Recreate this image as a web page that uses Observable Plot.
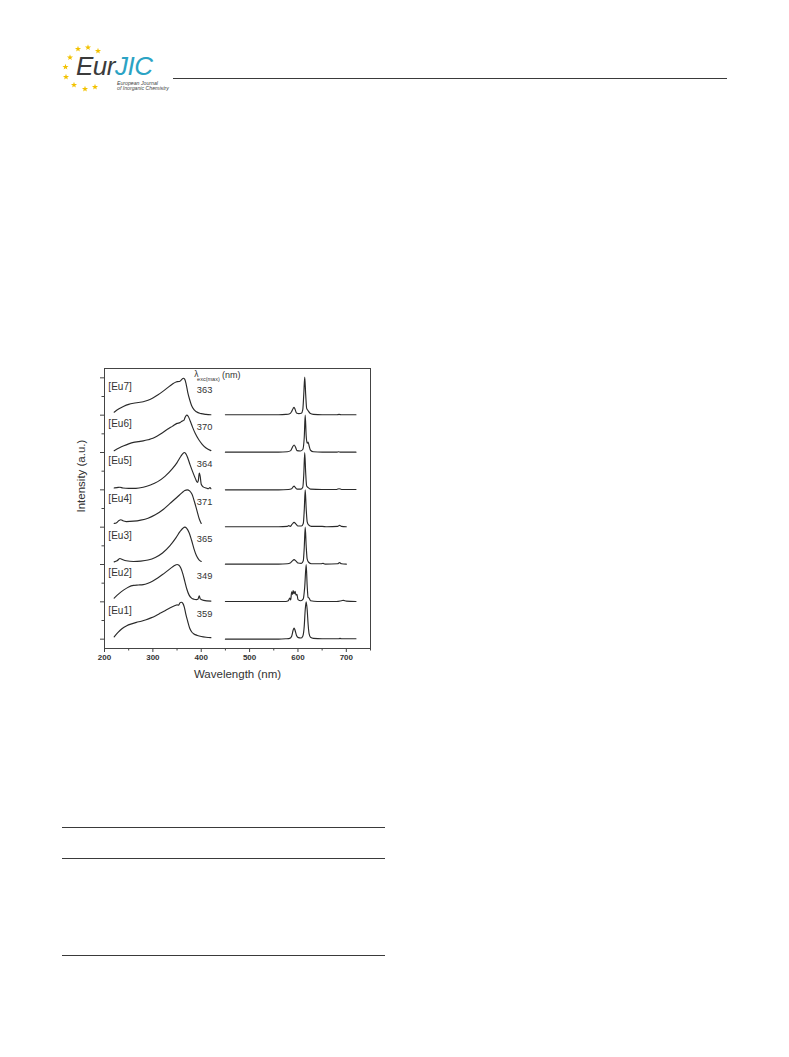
<!DOCTYPE html>
<html>
<head>
<meta charset="utf-8">
<script src="https://cdn.jsdelivr.net/npm/d3@7"></script>
<script src="https://cdn.jsdelivr.net/npm/@observablehq/plot@0.6"></script>
<style>
  html, body { margin: 0; padding: 0; background: #fff; }
  body { width: 789px; height: 1057px; position: relative; overflow: hidden; font-family: "Liberation Sans", Arial, sans-serif; }
  .abs { position: absolute; }
  .rule { position: absolute; height: 1.3px; background: #3a3a3a; }
</style>
</head>
<body>
<!-- journal header -->
<svg id="stars" class="abs" style="left:0; top:0;" width="120" height="100"></svg>
<div class="abs" style="left:76px; top:57px; font-size:26px; font-style:italic; color:#3b3b3b; letter-spacing:-0.5px; line-height:18px; height:18px;">Eur<span style="color:#2ba3c4;">JIC</span></div>
<div class="abs" style="left:117px; top:81px; font-size:5.2px; font-style:italic; color:#444; line-height:5.2px;">European Journal<br>of Inorganic Chemistry</div>
<div class="rule" style="left:173px; top:78px; width:554px;"></div>
<!-- table rules below the figure -->
<div class="rule" style="left:62px; top:827px; width:323px;"></div>
<div class="rule" style="left:62px; top:858px; width:323px;"></div>
<div class="rule" style="left:62px; top:955px; width:323px;"></div>
<div id="chart" class="abs" style="left:60px; top:360px;"></div>
<script>
// ---- data ----
const samples = ["[Eu1]", "[Eu2]", "[Eu3]", "[Eu4]", "[Eu5]", "[Eu6]", "[Eu7]"];
const lambdaMax = [359, 349, 365, 371, 364, 370, 363];

const excEu1 = [[220,0.06],[228,0.18],[236,0.28],[246,0.36],[256,0.41],[266,0.45],[276,0.48],[286,0.52],[296,0.57],[306,0.63],[316,0.70],[326,0.77],[336,0.84],[346,0.90],[350,0.92],[353,0.91],[356,0.97],[359,0.99],[362,0.96],[365,0.86],[368,0.68],[372,0.48],[376,0.30],[380,0.20],[385,0.14],[392,0.10],[400,0.07],[410,0.05],[420,0.04]];
const excEu2 = [[220,0.10],[230,0.22],[240,0.32],[250,0.40],[260,0.44],[270,0.45],[280,0.46],[290,0.50],[300,0.56],[310,0.64],[320,0.73],[330,0.83],[340,0.93],[346,0.98],[350,1.00],[354,0.98],[358,0.90],[362,0.75],[366,0.55],[370,0.35],[375,0.18],[380,0.10],[385,0.07],[390,0.06],[393,0.07],[396,0.16],[398,0.08],[405,0.04],[420,0.02]];
const excEu3 = [[220,0.07],[226,0.10],[232,0.16],[236,0.14],[245,0.10],[260,0.08],[275,0.09],[290,0.12],[305,0.19],[320,0.31],[335,0.50],[348,0.72],[356,0.88],[362,0.97],[366,1.00],[370,0.97],[375,0.85],[380,0.65],[385,0.42],[390,0.24],[395,0.13],[400,0.08]];
const excEu4 = [[220,0.10],[225,0.12],[230,0.18],[234,0.20],[238,0.17],[245,0.15],[260,0.16],[275,0.19],[290,0.24],[305,0.33],[320,0.46],[335,0.63],[350,0.80],[360,0.92],[366,0.98],[371,1.00],[376,0.97],[381,0.88],[386,0.68],[391,0.45],[396,0.22],[400,0.10]];
const excEu5 = [[220,0.05],[226,0.06],[232,0.07],[238,0.05],[250,0.04],[265,0.04],[280,0.07],[295,0.13],[310,0.22],[325,0.36],[340,0.56],[350,0.73],[358,0.90],[362,0.97],[365,1.00],[368,0.97],[372,0.86],[377,0.67],[383,0.46],[388,0.30],[392,0.20],[394,0.25],[396,0.45],[398,0.35],[400,0.15],[404,0.08],[410,0.05],[415,0.03],[418,0.06],[420,0.03]];
const excEu6 = [[220,0.05],[230,0.12],[240,0.18],[250,0.23],[260,0.27],[270,0.29],[280,0.31],[290,0.34],[300,0.38],[310,0.45],[320,0.53],[330,0.62],[340,0.70],[350,0.78],[356,0.80],[360,0.84],[364,0.86],[367,0.95],[370,1.00],[373,0.97],[377,0.85],[382,0.68],[388,0.50],[395,0.34],[402,0.22],[410,0.12],[420,0.05]];
const excEu7 = [[220,0.08],[230,0.17],[240,0.24],[250,0.29],[260,0.32],[270,0.34],[280,0.36],[290,0.40],[300,0.46],[310,0.54],[320,0.63],[330,0.73],[340,0.83],[348,0.89],[352,0.90],[356,0.91],[360,0.96],[363,0.99],[366,0.96],[369,0.82],[372,0.62],[376,0.42],[380,0.26],[385,0.15],[390,0.09],[400,0.04],[410,0.02],[420,0.01]];

const emEu1 = [[450,0.00],[560,0.00],[575,0.01],[583,0.02],[587,0.08],[590,0.24],[592,0.30],[594,0.24],[597,0.10],[601,0.04],[606,0.03],[610,0.08],[613,0.35],[615,0.78],[617,1.00],[619,0.80],[621,0.40],[623,0.15],[626,0.05],[632,0.02],[650,0.01],[684,0.01],[687,0.02],[690,0.01],[720,0.01]];
const emEu2 = [[450,0.01],[560,0.01],[575,0.01],[580,0.03],[583,0.10],[585,0.05],[587,0.27],[589,0.20],[590,0.30],[592,0.22],[594,0.28],[596,0.18],[598,0.20],[600,0.06],[606,0.03],[611,0.08],[614,0.40],[617,1.00],[619,0.45],[621,0.12],[623,0.10],[626,0.03],[640,0.01],[680,0.01],[690,0.03],[694,0.04],[700,0.02],[720,0.01]];
const emEu3 = [[450,0.01],[560,0.01],[578,0.02],[584,0.04],[588,0.09],[592,0.13],[596,0.09],[600,0.04],[607,0.03],[611,0.10],[613,0.45],[615,1.00],[617,0.50],[619,0.15],[622,0.06],[628,0.02],[648,0.02],[652,0.03],[656,0.01],[682,0.02],[686,0.05],[690,0.02],[700,0.01]];
const emEu4 = [[450,0.01],[560,0.01],[578,0.02],[581,0.04],[584,0.02],[588,0.08],[592,0.13],[596,0.08],[600,0.03],[607,0.03],[611,0.10],[613,0.45],[615,1.00],[617,0.50],[619,0.15],[622,0.06],[628,0.02],[650,0.02],[660,0.01],[682,0.02],[686,0.05],[690,0.02],[700,0.01]];
const emEu5 = [[450,0.00],[560,0.00],[580,0.01],[587,0.03],[590,0.08],[592,0.10],[594,0.07],[598,0.02],[606,0.02],[610,0.07],[612,0.40],[614,1.00],[616,0.45],[618,0.10],[621,0.06],[626,0.02],[650,0.01],[680,0.01],[685,0.03],[690,0.01],[720,0.01]];
const emEu6 = [[450,0.01],[560,0.01],[578,0.02],[585,0.05],[589,0.15],[592,0.20],[595,0.14],[598,0.05],[605,0.04],[610,0.08],[613,0.40],[615,1.00],[617,0.45],[619,0.25],[621,0.28],[623,0.18],[626,0.06],[632,0.02],[650,0.01],[680,0.01],[684,0.02],[688,0.01],[720,0.01]];
const emEu7 = [[450,0.01],[500,0.01],[560,0.01],[575,0.02],[583,0.04],[587,0.10],[590,0.18],[592,0.21],[594,0.16],[597,0.06],[602,0.04],[607,0.05],[610,0.15],[612,0.55],[614,1.02],[616,0.55],[618,0.18],[620,0.14],[622,0.10],[625,0.05],[632,0.02],[650,0.01],[680,0.01],[685,0.02],[690,0.01],[720,0.01]];

const xMajorTicks = [200, 300, 400, 500, 600, 700];
const xMinorTicks = [250, 350, 450, 550, 650, 750];
const yMajorTicks = [0, 1, 2, 3, 4, 5, 6, 7];
const yMinorTicks = [0.5, 1.5, 2.5, 3.5, 4.5, 5.5, 6.5];

// ---- build long table (each sample offset by one unit, waterfall style) ----
const excitation = [excEu1, excEu2, excEu3, excEu4, excEu5, excEu6, excEu7];
const emission = [emEu1, emEu2, emEu3, emEu4, emEu5, emEu6, emEu7];
const rows = [];
samples.forEach((s, i) => {
  excitation[i].forEach(([x, v]) => rows.push({key: s + "-exc", x, y: v + i}));
  emission[i].forEach(([x, v]) => rows.push({key: s + "-em", x, y: v + i}));
});
const labelRows = samples.map((s, i) => ({name: s, i, lm: lambdaMax[i]}));

const ink = "#2a2a2a";
const chart = Plot.plot({
  width: 320,
  height: 330,
  marginLeft: 44,
  marginRight: 10,
  marginTop: 8,
  marginBottom: 42,
  x: {domain: [200, 750], axis: null},
  y: {domain: [-0.25, 7.25], axis: null},
  style: {fontFamily: "'Liberation Sans', Arial, sans-serif", color: "#333", background: "transparent", overflow: "visible"},
  marks: [
    Plot.frame({stroke: "#444", strokeWidth: 1}),
    Plot.axisX({ticks: xMajorTicks, anchor: "bottom", tickSize: 4, tickPadding: 2, fontSize: 8, fontWeight: "bold", stroke: "#444", fill: "#333", label: null}),
    Plot.axisX({ticks: xMinorTicks, anchor: "bottom", tickSize: 2.5, fill: "none", stroke: "#444", label: null}),
    Plot.axisY({ticks: yMajorTicks, anchor: "left", tickSize: 4, fill: "none", stroke: "#444", label: null}),
    Plot.axisY({ticks: yMinorTicks, anchor: "left", tickSize: 2.5, fill: "none", stroke: "#444", label: null}),
    Plot.line(rows, {x: "x", y: "y", z: "key", curve: "monotone-x", stroke: ink, strokeWidth: 1.15}),
    Plot.text(labelRows, {x: () => 208, y: d => d.i + 0.77, text: "name", textAnchor: "start", fontSize: 10, fill: "#333"}),
    Plot.text(labelRows, {x: () => 407, y: d => d.i + 0.68, text: d => String(d.lm), fontSize: 9.3, fill: "#333"}),
    Plot.text(["λ"], {x: () => 390, y: () => 7.1, fontSize: 8.5, fill: "#333"}),
    Plot.text(["exc(max)"], {x: () => 391.5, y: () => 6.96, textAnchor: "start", fontSize: 5.5, fill: "#333"}),
    Plot.text(["(nm)"], {x: () => 443, y: () => 7.08, textAnchor: "start", fontSize: 9, fill: "#333"}),
    Plot.text(["Wavelength (nm)"], {frameAnchor: "bottom", dy: 29, fontSize: 11.5, fill: "#333"}),
    Plot.text(["Intensity (a.u.)"], {frameAnchor: "left", dx: -23.5, dy: 4, rotate: -90, fontSize: 11.5, fill: "#333"})
  ]
});
document.getElementById("chart").appendChild(chart);

// ---- logo stars (decorative polygons) ----
const starPos = [[78,49],[88,47.5],[98,51],[70,57.5],[65.5,67],[66,77],[74,85],[85,89],[95,87]];
const starPath = d3.range(10).map(k => {
  const r = k % 2 === 0 ? 3.2 : 1.3;
  const a = -Math.PI / 2 + k * Math.PI / 5;
  return [r * Math.cos(a), r * Math.sin(a)];
});
d3.select("#stars").selectAll("polygon").data(starPos).join("polygon")
  .attr("points", starPath.map(p => p.join(",")).join(" "))
  .attr("transform", d => `translate(${d[0]},${d[1]})`)
  .attr("fill", "#f2c200");
</script>
</body>
</html>
